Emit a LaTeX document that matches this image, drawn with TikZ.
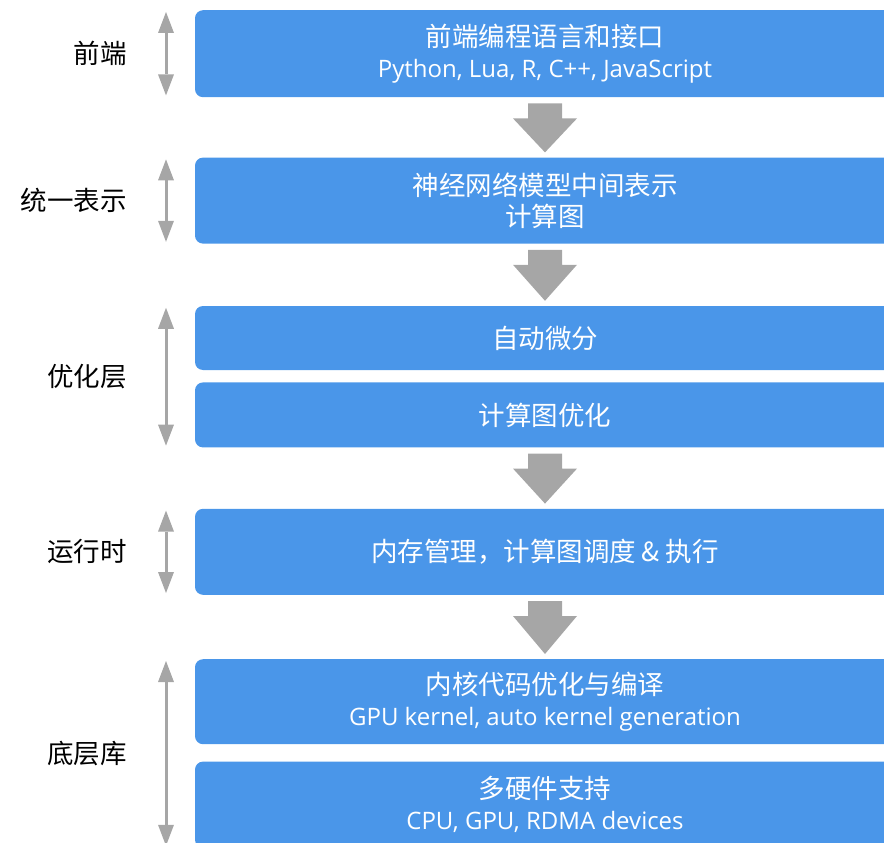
\documentclass[tikz,border=0pt]{standalone}
\usepackage{fontspec}
\setmainfont{Noto Sans CJK SC}
\newfontfamily\latinfont{Open Sans}
\usepackage{tikz}
\usetikzlibrary{positioning,calc,arrows.meta}
\definecolor{layerblue}{HTML}{4A96E9}
\definecolor{arrowgrey}{HTML}{A6A6A6}
\newcommand{\Sub}[1]{{\latinfont\fontsize{24}{30}\selectfont #1}}
\newcommand{\flowarrow}[2]{%
  \fill[arrowgrey] ($(#1.south)+(-17,6)$) -- ($(#1.south)+(17,6)$) -- ($(#1.south)+(17,21)$)
    -- ($(#1.south)+(32,21)$) -- ($(#2.north)+(0,-5)$) -- ($(#1.south)+(-32,21)$)
    -- ($(#1.south)+(-17,21)$) -- cycle;}
\tikzset{
  module/.style={fill=layerblue, rounded corners=8pt, minimum width=700pt, text=white,
    align=center, inner sep=0pt, font=\fontsize{26.5}{31}\selectfont},
  layer/.style={text=black, font=\fontsize{26.5}{30}\selectfont, inner sep=0pt},
  updown/.style={arrowgrey, line width=3pt, shorten <=2pt, shorten >=2pt,
    {Triangle[width=16pt,length=21pt,line width=0pt]}-{Triangle[width=16pt,length=21pt,line width=0pt]}},
}

\begin{document}
\begin{tikzpicture}[x=1pt, y=-1pt]
			\useasboundingbox (0,0) rectangle (884,843);
			\clip (0,0) rectangle (884,843);

			% Define nodes
			\node[module, minimum height=87pt, anchor=north] (frontend) at (545,10) {前端编程语言和接口\\\Sub{Python, Lua, R, C++, JavaScript}};
			\node[module, minimum height=86pt, below=60pt of frontend] (ir) {神经网络模型中间表示\\计算图};
			\node[module, minimum height=64pt, below=62pt of ir] (autodiff) {自动微分};
			\node[module, minimum height=65pt, below=12pt of autodiff] (graphopt) {计算图优化};
			\node[module, minimum height=86pt, below=61pt of graphopt] (runtime) {内存管理，计算图调度 \& 执行};
			\node[module, minimum height=85pt, below=64pt of runtime] (kernel) {内核代码优化与编译\\\Sub{GPU kernel, auto kernel generation}};
			\node[module, minimum height=86pt, below=17pt of kernel] (device) {多硬件支持\\\Sub{CPU, GPU, RDMA devices}};
			\coordinate (axis) at (166,0);

			% Connect the nodes
			\flowarrow{frontend}{ir}
			\flowarrow{ir}{autodiff}
			\flowarrow{graphopt}{runtime}
			\flowarrow{runtime}{kernel}

			% Layer ranges
			\draw[updown] (axis |- frontend.north) -- node[layer, left=38pt] {前端} (axis |- frontend.south);
			\draw[updown] (axis |- ir.north) -- node[layer, left=38pt] {统一表示} (axis |- ir.south);
			\draw[updown] (axis |- autodiff.north) -- node[layer, left=38pt] {优化层} (axis |- graphopt.south);
			\draw[updown] (axis |- runtime.north) -- node[layer, left=38pt] {运行时} (axis |- runtime.south);
			\draw[updown] (axis |- kernel.north) -- node[layer, left=38pt] {底层库} (axis |- device.south);
		\end{tikzpicture}
\end{document}
